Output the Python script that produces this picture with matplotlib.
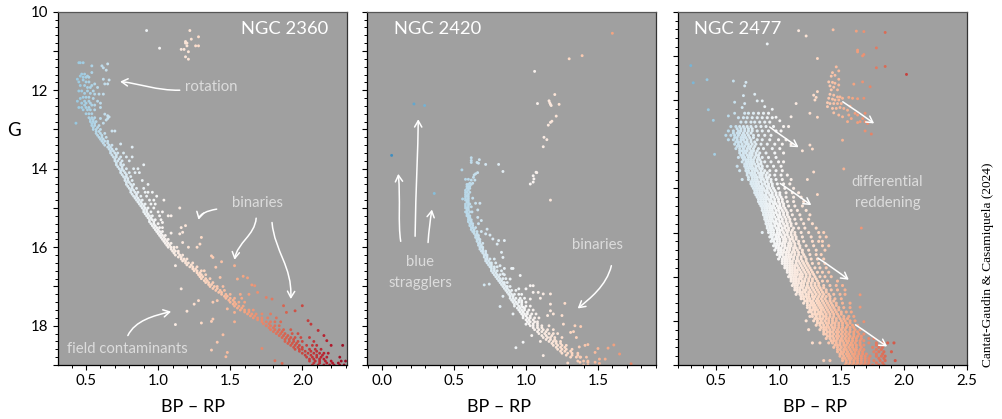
import matplotlib
matplotlib.use("Agg")
import matplotlib.pyplot as plt
from matplotlib.patches import FancyArrowPatch
from matplotlib.path import Path
from matplotlib.ticker import MultipleLocator
from matplotlib.colors import Normalize

plt.rcParams['font.family'] = ['Lato', 'DejaVu Sans']

# ---- NGC 2360: {G: [BP-RP, ...]}
n2360_dense = {
12.5:[.48,.51,.53,.56],12.6:[.50,.52,.54],12.7:[.52,.54,.56],12.8:[.53,.55,.57],12.9:[.54,.56,.59],13.0:[.55,.57,.60],
13.1:[.57,.60,.63],13.2:[.59,.61,.64],13.3:[.61,.63,.65],13.4:[.63,.66,.68],
13.5:[.66,.68,.71],13.6:[.67,.70,.72,.76],13.7:[.69,.71,.74,.78,.82],13.8:[.70,.72,.75,.80],13.9:[.71,.74,.76,.90],
14.0:[.73,.75,.78,.83,.86],14.1:[.74,.77,.80,.84,.87],14.2:[.76,.78,.81],14.3:[.77,.79,.82,.89],14.4:[.78,.81,.83,.93],
14.5:[.80,.82,.85,.90],14.6:[.81,.84,.86,.91,.93,.96],14.7:[.83,.85,.88,.92,.99],14.8:[.85,.87,.89,.94,1.04,.97],
14.9:[.87,.89,.91,.95,.98],15.0:[.89,.91,.93,.97],15.1:[.90,.92,.95,1.0,1.03],15.2:[.92,.94,.96,1.01],
15.3:[.94,.96,.98,1.02],15.4:[.95,.97,1.0],15.5:[.97,.99,1.01,1.03],15.6:[.99,1.01,1.03],15.7:[1.01,1.03,1.05],
15.8:[1.03,1.05,1.07],15.9:[1.05,1.07,1.09],16.0:[1.07,1.09,1.11,1.13],16.1:[1.10,1.12,1.14],16.2:[1.12,1.15,1.17],
16.3:[1.16,1.18,1.20],16.4:[1.19,1.21,1.24],16.5:[1.22,1.24,1.27],16.6:[1.25,1.27,1.30,1.32],16.7:[1.28,1.30,1.33],
16.8:[1.30,1.33,1.36],16.9:[1.33,1.35,1.38],17.0:[1.36,1.39,1.41,1.45],17.1:[1.40,1.43,1.46],17.2:[1.44,1.47,1.50],
17.3:[1.47,1.50,1.53,1.58],17.4:[1.50,1.53,1.56,1.60],17.5:[1.53,1.56,1.59],17.6:[1.57,1.60,1.63,1.66],
17.7:[1.62,1.65,1.68,1.72,1.78],17.8:[1.66,1.69,1.72,1.76,1.82],17.9:[1.72,1.75,1.78,1.81,1.85],18.0:[1.75,1.78,1.81,1.84],
18.1:[1.78,1.81,1.84,1.87,1.92],18.2:[1.82,1.85,1.88,1.93,1.97],18.3:[1.86,1.89,1.92,1.95,1.99,2.05],
18.4:[1.88,1.91,1.94,1.97,2.0,2.08],18.5:[1.92,1.95,1.98,2.03,2.07,2.1],18.6:[1.95,1.98,2.0,2.05,2.09,2.13],
18.7:[2.0,2.04,2.08,2.12,2.15,2.18],18.8:[2.03,2.07,2.1,2.13,2.17,2.26],18.9:[2.05,2.09,2.12,2.16,2.2,2.27,2.3],
19.0:[2.07,2.11,2.15,2.19,2.22,2.26,2.29]}
n2360_core = {
12.75:[.53,.55],12.85:[.54,.56],12.95:[.55,.58],13.05:[.57,.59],13.15:[.58,.61],13.25:[.60,.62],13.35:[.62,.65],13.45:[.65,.67],
13.55:[.67,.69],13.65:[.68,.71],13.75:[.70,.73],13.85:[.71,.74],13.95:[.72,.75],14.05:[.74,.76],14.15:[.75,.78],14.25:[.77,.79],
14.35:[.78,.80],14.45:[.79,.82],14.55:[.81,.83],14.65:[.82,.85],14.75:[.84,.86],14.85:[.86,.88],14.95:[.88,.90],15.05:[.90,.92],
15.15:[.91,.93],15.25:[.93,.95],15.35:[.94,.97],15.45:[.96,.98],15.55:[.98,1.0],15.65:[1.0,1.02],15.75:[1.02,1.04],15.85:[1.04,1.06],
15.95:[1.06,1.08],16.05:[1.09,1.11],16.15:[1.11,1.14],16.25:[1.14,1.16],16.35:[1.17,1.19],16.45:[1.2,1.23],16.55:[1.24,1.26],
16.65:[1.27,1.29],16.75:[1.29,1.31],16.85:[1.32,1.34],16.95:[1.35,1.37],17.05:[1.38,1.41],17.15:[1.42,1.44],17.25:[1.46,1.48],
17.35:[1.49,1.52],17.45:[1.52,1.54],17.55:[1.55,1.58],17.65:[1.6,1.63],17.75:[1.64,1.67],17.85:[1.69,1.72],17.95:[1.73,1.77],
18.05:[1.77,1.8],18.15:[1.8,1.83,1.86],18.25:[1.84,1.87,1.9],18.35:[1.88,1.91,1.94],18.45:[1.9,1.93,1.96],18.55:[1.94,1.97,2.0],
18.65:[1.98,2.02,2.06,2.1],18.75:[2.02,2.06,2.1,2.14],18.85:[2.05,2.08,2.12,2.15],18.95:[2.08,2.12,2.17,2.21,2.25]}
n2360_sparse = {
10.48:[.92,1.22],10.64:[1.28],10.70:[1.23],10.76:[1.19],10.80:[1.20,1.19],10.87:[1.26,1.28,1.20],10.93:[1.01],
10.96:[1.18,1.16],11.02:[1.21],11.15:[1.19],11.21:[1.21],11.30:[.45,.46,.48],11.33:[.65],11.38:[.54,.61],11.43:[.62],
11.49:[.64],11.55:[.54],11.59:[.47,.49],11.64:[.46,.51],11.67:[.48,.50,.52],11.72:[.44,.62],11.74:[.48,.66],
11.79:[.45,.52,.50],11.84:[.56,.63,.65],11.88:[.46,.49,.54],11.93:[.53,.58,.51],12.02:[.45,.47,.51,.55],12.08:[.49,.53],
12.10:[.56,.59,.62],12.18:[.48,.52,.50],12.21:[.46,.55],12.28:[.44,.49,.52,.58],12.33:[.47,.53,.60,.50],12.38:[.49,.56,.54],
12.44:[.45,.47,.52,.60,.50],12.61:[.63],12.65:[.65],12.68:[.66],12.72:[.60,.65],12.76:[.64],12.84:[.43,.62],
13.04:[.68,.70],13.37:[.74],13.45:[.82],15.0:[1.15],15.2:[1.07,1.09],15.37:[1.03],15.45:[1.19],15.5:[1.16],
15.62:[1.17],15.64:[1.09],15.66:[1.15],15.75:[1.3],15.88:[1.17],15.92:[1.29],16.0:[1.21,1.27],16.22:[1.37],16.26:[1.38],
16.37:[1.44],16.47:[1.53,1.12],16.51:[1.4],16.74:[1.59],16.77:[1.43],16.78:[1.62],16.81:[1.55],16.96:[1.65],16.98:[1.67],
17.06:[1.16],17.15:[1.69],17.2:[1.63,1.57],17.28:[1.75],17.32:[1.79],17.36:[1.28,1.41],17.4:[1.38],17.45:[1.25],
17.49:[1.87,2.0],17.57:[1.48],17.62:[1.95],17.63:[1.2],17.66:[1.89,1.53],17.83:[1.38],17.87:[2.04],17.89:[1.37],
17.9:[1.53],17.93:[1.3],17.96:[2.06],17.97:[1.12],18.12:[2.11],18.23:[1.45],18.25:[2.15],18.38:[2.17],18.42:[1.41],
18.5:[2.2,2.28],18.58:[1.72],18.62:[1.37],18.68:[1.48],18.79:[1.47],18.89:[1.81],18.96:[1.86]}

# ---- NGC 2420
n2420_dense = {
14.4:[.59,.60,.62],14.5:[.59,.60,.61],14.6:[.58,.59,.61],14.7:[.58,.59,.60],14.8:[.58,.59,.60],14.9:[.58,.60,.61],
15.0:[.58,.59,.60],15.1:[.58,.59,.61],15.2:[.59,.60,.61],15.3:[.60,.61,.62],15.4:[.61,.62,.63],15.5:[.62,.63,.65],
15.6:[.63,.64,.66],15.7:[.65,.66,.67],15.8:[.66,.67,.68],15.9:[.67,.68,.70],16.0:[.68,.69,.70],16.1:[.69,.70,.72],
16.2:[.71,.72,.73],16.3:[.72,.73,.75,.78],16.4:[.73,.75,.76,.79],16.5:[.75,.76,.78,.80],16.6:[.76,.78,.80,.83],
16.7:[.78,.80,.82,.85],16.8:[.80,.82,.84,.86],16.9:[.82,.84,.85,.87],17.0:[.84,.86,.87,.89],17.1:[.86,.88,.90,.93],
17.2:[.88,.90,.92,.95,.97],17.3:[.89,.91,.93,.96,.99],17.4:[.91,.93,.95,.97,1.0],17.5:[.92,.95,.97,1.0,1.03],
17.6:[.95,.97,.99,1.02,1.05],17.7:[.97,.99,1.01,1.04,1.07],17.8:[.98,1.01,1.03,1.06,1.09],17.9:[1.01,1.03,1.06,1.08],
18.0:[1.03,1.05,1.08,1.11,1.16],18.1:[1.06,1.09,1.12,1.15,1.19],18.2:[1.09,1.13,1.16,1.19,1.22],18.3:[1.12,1.15,1.17,1.20,1.25],
18.4:[1.16,1.19,1.21,1.24],18.5:[1.19,1.22,1.25,1.28],18.6:[1.22,1.25,1.28,1.32],18.7:[1.25,1.29,1.32,1.36],
18.8:[1.31,1.35,1.38,1.42],18.9:[1.36,1.40,1.43],19.0:[1.40,1.43]}
n2420_core = {
14.45:[.59,.61],14.55:[.58,.60],14.65:[.58,.60],14.75:[.58,.60],14.85:[.59,.60],14.95:[.58,.60],15.05:[.59,.60],15.15:[.59,.60],
15.25:[.60,.61],15.35:[.60,.62],15.45:[.61,.63],15.55:[.62,.64],15.65:[.64,.66],15.75:[.65,.67],15.85:[.66,.68],15.95:[.67,.69],
16.05:[.68,.70],16.15:[.70,.72],16.25:[.71,.73],16.35:[.72,.74],16.45:[.74,.76],16.55:[.76,.78],16.65:[.77,.79],16.75:[.79,.81],
16.85:[.81,.83],16.95:[.83,.85],17.05:[.85,.87],17.15:[.87,.89],17.25:[.89,.91],17.35:[.90,.92,.95],17.45:[.92,.94,.97],
17.55:[.94,.96,.99],17.65:[.96,.98,1.01],17.75:[.98,1.0,1.03],17.85:[1.0,1.02,1.05],17.95:[1.02,1.05,1.08],18.05:[1.05,1.08,1.11],
18.15:[1.08,1.11,1.14],18.25:[1.11,1.14,1.18],18.35:[1.14,1.17,1.2],18.45:[1.18,1.21,1.24],18.55:[1.21,1.24,1.27],
18.65:[1.24,1.27,1.31],18.75:[1.28,1.32,1.36]}
n2420_sparse = {
10.55:[1.60],11.12:[1.39],11.2:[1.30],11.52:[1.06],12.11:[1.2],12.27:[1.16],12.32:[1.165],12.34:[1.08],12.36:[1.23,1.17],
12.39:[1.175,.296],12.35:[.222],12.66:[1.21],12.79:[1.18],12.82:[1.17],12.89:[1.155],13.2:[1.125],13.26:[1.145],13.44:[1.12],
13.66:[.067],13.72:[.62],13.77:[.676],13.79:[.62],13.84:[.62,.66],13.86:[.67],13.89:[.72,.81],14.03:[.555],14.07:[.84],
14.09:[1.07],14.1:[.664,1.075],14.13:[.65],14.16:[.64],14.18:[1.05],14.22:[.635],14.26:[1.055],14.27:[.58,.6],14.29:[.62,.645],
14.34:[1.05],14.37:[.61,.63],14.39:[1.03],14.46:[.6],14.63:[.363],14.75:[.63],14.77:[.56],14.8:[1.17],14.88:[.65,.68],
14.97:[.62],15.05:[.665],15.1:[.625],15.24:[.665],15.32:[.69],15.4:[.67],15.54:[.73],15.6:[.69],15.66:[.72],15.69:[.75],
15.79:[.77],15.83:[.81,.85],15.92:[.8],16.13:[.83],16.26:[.84],16.47:[.82],16.54:[.9,.91,.85],16.68:[.84],16.72:[.96],
16.81:[.89],16.94:[.745],16.96:[.71],16.98:[1.03,1.05],17.06:[.95,1.0],17.15:[1.05,1.085],17.19:[1.12,1.17],17.25:[.84],
17.3:[1.1],17.32:[1.03],17.36:[.97],17.43:[1.27],17.45:[1.17],17.51:[.82],17.53:[.98],17.62:[1.17],17.7:[.91,1.19],
17.74:[1.15,1.25],17.96:[1.0,1.26],18.0:[1.34],18.02:[1.38],18.15:[1.33],18.17:[1.31],18.25:[1.04],18.3:[1.35],
18.4:[1.1],18.42:[.98],18.48:[1.43],18.5:[1.41],18.54:[1.37],18.56:[.93],18.57:[1.57],18.58:[1.5],18.49:[1.61],18.68:[1.48],
18.72:[1.65],18.76:[1.12],18.8:[1.375],18.85:[1.51,1.55],18.93:[1.48,1.375,1.43],18.95:[1.29],18.96:[1.51],18.97:[1.73]}

# ---- NGC 2477
n2477_dense = {
13.3:[.73,.76,.80,.84,.88,.92],13.4:[.68,.72,.75,.79,.83,.87,.91,.95],13.5:[.70,.74,.78,.81,.85,.89,.93],
13.6:[.62,.66,.69,.72,.75,.78,.82,.86,.90,.96,1.04,1.08],13.7:[.60,.64,.68,.70,.73,.76,.79,.83,.87,.92,.98,1.02],
13.8:[.58,.62,.65,.68,.71,.73,.76,.80,.84,.89,.94],13.9:[.60,.64,.67,.70,.72,.75,.78,.83,.87,.93,1.0,1.06],
14.0:[.65,.68,.71,.74,.76,.79,.82,.86,.91,.97,1.03,1.1],14.1:[.66,.69,.72,.75,.77,.80,.84,.88,.95,1.01],
14.2:[.69,.72,.74,.77,.79,.82,.85,.90,.97,1.04],14.3:[.68,.71,.73,.76,.78,.81,.84,.87,.92,.98],
14.4:[.71,.74,.76,.78,.80,.83,.86,.89,.94,1.0,1.04],14.5:[.67,.73,.75,.77,.79,.82,.84,.87,.91,.96,1.02],
14.6:[.69,.74,.76,.79,.81,.83,.86,.89,.93,.98,1.03],14.7:[.75,.78,.80,.82,.85,.87,.90,.93,.97,1.02,1.07],
14.8:[.71,.76,.79,.81,.83,.86,.88,.91,.94,.98,1.03,1.1],14.9:[.78,.80,.82,.84,.87,.89,.92,.95,.99,1.04,1.09],
15.0:[.80,.82,.84,.86,.88,.91,.93,.96,1.0,1.05,1.12],15.1:[.81,.83,.85,.87,.90,.92,.95,.98,1.01,1.06,1.11,1.16],
15.2:[.83,.85,.87,.89,.91,.94,.96,.99,1.02,1.06,1.12,1.18],15.3:[.84,.86,.88,.90,.93,.95,.97,1.0,1.03,1.07,1.12,1.2],
15.4:[.86,.88,.90,.92,.94,.96,.99,1.01,1.04,1.08,1.13,1.19],15.5:[.87,.89,.91,.93,.95,.98,1.0,1.03,1.06,1.1,1.15,1.22],
15.6:[.88,.90,.92,.94,.96,.99,1.01,1.04,1.07,1.11,1.17,1.25],15.7:[.89,.91,.93,.95,.98,1.0,1.03,1.06,1.09,1.13,1.18,1.24],
15.8:[.90,.92,.94,.97,.99,1.01,1.04,1.07,1.1,1.14,1.2,1.27],15.9:[.91,.93,.95,.98,1.0,1.03,1.05,1.08,1.12,1.16,1.21,1.3],
16.0:[.87,.92,.94,.96,.99,1.01,1.04,1.07,1.1,1.13,1.18,1.24,1.32,1.36],16.1:[.93,.95,.98,1.0,1.03,1.05,1.08,1.11,1.14,1.19,1.26,1.33,1.38],
16.2:[.94,.96,.99,1.01,1.04,1.06,1.09,1.12,1.16,1.2,1.27,1.32,1.35],16.3:[.96,.98,1.0,1.03,1.05,1.08,1.1,1.13,1.17,1.22,1.28,1.35,1.4],
16.4:[.97,1.0,1.02,1.04,1.07,1.09,1.12,1.15,1.19,1.24,1.3,1.37],16.5:[.99,1.01,1.03,1.06,1.08,1.1,1.13,1.16,1.2,1.25,1.3,1.34],
16.6:[1.0,1.03,1.05,1.07,1.09,1.12,1.15,1.18,1.22,1.26,1.31,1.36],16.7:[1.03,1.05,1.07,1.09,1.11,1.14,1.17,1.2,1.23,1.27,1.32,1.37],
16.8:[1.05,1.07,1.09,1.11,1.13,1.16,1.19,1.22,1.25,1.29,1.33,1.38],16.9:[1.07,1.09,1.11,1.13,1.15,1.18,1.21,1.24,1.27,1.31,1.35,1.4],
17.0:[1.08,1.1,1.12,1.14,1.17,1.19,1.22,1.25,1.29,1.33,1.37,1.42],17.1:[1.1,1.12,1.14,1.16,1.19,1.21,1.24,1.27,1.31,1.35,1.39,1.47],
17.2:[1.11,1.13,1.15,1.18,1.2,1.23,1.26,1.29,1.32,1.36,1.41,1.46,1.51],17.3:[1.13,1.15,1.17,1.2,1.22,1.25,1.28,1.31,1.34,1.38,1.42,1.47,1.53],
17.4:[1.14,1.17,1.19,1.22,1.24,1.27,1.3,1.33,1.36,1.4,1.44,1.49,1.53],17.5:[1.18,1.2,1.23,1.25,1.28,1.31,1.34,1.37,1.41,1.45,1.5],
17.6:[1.2,1.23,1.26,1.28,1.31,1.33,1.36,1.39,1.42,1.46,1.51,1.57],17.7:[1.23,1.25,1.28,1.3,1.33,1.35,1.38,1.41,1.44,1.48,1.52,1.57],
17.8:[1.24,1.26,1.29,1.32,1.34,1.37,1.4,1.43,1.46,1.5,1.54,1.58],17.9:[1.25,1.27,1.3,1.33,1.36,1.38,1.41,1.44,1.48,1.52,1.56,1.6],
18.0:[1.22,1.28,1.31,1.34,1.37,1.4,1.43,1.46,1.5,1.53,1.57,1.61],18.1:[1.3,1.33,1.36,1.39,1.42,1.45,1.48,1.51,1.55,1.59,1.63],
18.2:[1.24,1.33,1.36,1.38,1.41,1.44,1.47,1.5,1.53,1.57,1.61,1.65],18.3:[1.36,1.38,1.41,1.44,1.47,1.5,1.53,1.56,1.6,1.64,1.68],
18.4:[1.38,1.41,1.44,1.47,1.5,1.53,1.56,1.59,1.62,1.66,1.72,1.76],18.5:[1.27,1.33,1.4,1.43,1.46,1.49,1.52,1.55,1.58,1.61,1.65,1.72,1.78,1.83,1.87,1.92],
18.6:[1.44,1.47,1.5,1.53,1.56,1.59,1.62,1.66,1.75,1.8,1.83],18.7:[1.47,1.5,1.52,1.55,1.58,1.61,1.64,1.67,1.76,1.8,1.84,1.9],
18.8:[1.49,1.52,1.55,1.57,1.6,1.63,1.66,1.69,1.73,1.78,1.82,1.85],18.9:[1.36,1.41,1.51,1.54,1.57,1.6,1.63,1.66,1.69,1.72,1.76,1.81,1.85,1.93],
19.0:[1.53,1.56,1.59,1.62,1.65,1.68,1.71,1.75,1.8,1.84]}
n2477_core = {
13.65:[.67,.70,.73,.76,.79],13.75:[.64,.67,.69,.72,.75,.78],13.85:[.65,.67,.70,.72,.74,.77,.80],13.95:[.66,.68,.70,.73,.75,.78,.81],
14.05:[.67,.69,.71,.73,.76,.78,.81],14.15:[.69,.71,.73,.75,.78,.80,.83],14.25:[.70,.72,.75,.77,.79,.82,.84],14.35:[.72,.74,.76,.78,.80,.83,.85],
14.45:[.73,.75,.77,.79,.81,.84,.86],14.55:[.74,.76,.78,.80,.82,.85,.87],14.65:[.75,.77,.79,.81,.84,.86,.88,.91],
14.75:[.76,.79,.81,.83,.85,.87,.90,.92],14.85:[.78,.80,.82,.84,.86,.89,.91,.94],14.95:[.79,.81,.83,.85,.87,.90,.92,.95],
15.05:[.81,.83,.85,.87,.89,.91,.94,.97],15.15:[.82,.84,.86,.88,.90,.93,.95,.98,1.01],15.25:[.84,.86,.88,.90,.92,.94,.97,1.0,1.03],
15.35:[.85,.87,.89,.91,.93,.96,.98,1.01,1.04],15.45:[.87,.89,.91,.93,.95,.97,1.0,1.02,1.05],15.55:[.88,.90,.92,.94,.96,.98,1.01,1.04,1.07],
15.65:[.89,.91,.93,.95,.97,1.0,1.02,1.05,1.08],15.75:[.90,.92,.94,.96,.98,1.01,1.03,1.06,1.09],15.85:[.91,.93,.95,.97,1.0,1.02,1.05,1.07,1.1],
15.95:[.92,.94,.96,.99,1.01,1.03,1.06,1.08,1.11],16.05:[.94,.96,.98,1.0,1.02,1.05,1.07,1.1,1.13],16.15:[.95,.97,.99,1.01,1.04,1.06,1.09,1.11,1.14],
16.25:[.97,.99,1.01,1.03,1.05,1.08,1.1,1.13,1.16],16.35:[.98,1.0,1.02,1.05,1.07,1.09,1.12,1.14,1.17],16.45:[1.0,1.02,1.04,1.06,1.08,1.11,1.13,1.16,1.19],
16.55:[1.01,1.04,1.06,1.08,1.1,1.12,1.15,1.18,1.21],16.65:[1.03,1.05,1.07,1.09,1.11,1.14,1.16,1.19,1.22],16.75:[1.05,1.07,1.09,1.11,1.13,1.15,1.18,1.21,1.24],
16.85:[1.07,1.09,1.11,1.13,1.15,1.17,1.2,1.23,1.26],16.95:[1.09,1.11,1.13,1.15,1.17,1.19,1.22,1.25,1.28],17.05:[1.1,1.12,1.14,1.16,1.18,1.21,1.24,1.27,1.3],
17.15:[1.12,1.14,1.16,1.18,1.2,1.23,1.26,1.29,1.32],17.25:[1.13,1.15,1.17,1.19,1.22,1.24,1.27,1.3,1.33,1.36],17.35:[1.15,1.17,1.19,1.21,1.24,1.26,1.29,1.32,1.35,1.38],
17.45:[1.18,1.2,1.22,1.24,1.27,1.29,1.32,1.35,1.38,1.41],17.55:[1.21,1.23,1.25,1.27,1.3,1.32,1.35,1.38,1.41,1.44],17.65:[1.23,1.25,1.27,1.29,1.32,1.34,1.37,1.4,1.43,1.46],
17.75:[1.25,1.27,1.29,1.31,1.34,1.36,1.39,1.42,1.45,1.48],17.85:[1.27,1.29,1.31,1.33,1.35,1.38,1.41,1.44,1.47,1.5],17.95:[1.29,1.31,1.33,1.35,1.38,1.4,1.43,1.46,1.49,1.52,1.55],
18.05:[1.31,1.33,1.35,1.38,1.4,1.43,1.45,1.48,1.51,1.54,1.57],18.15:[1.34,1.36,1.38,1.4,1.43,1.45,1.48,1.51,1.54,1.57,1.6],18.25:[1.36,1.39,1.41,1.43,1.46,1.48,1.51,1.54,1.57,1.6,1.63],
18.35:[1.39,1.41,1.43,1.46,1.48,1.51,1.54,1.57,1.6,1.63,1.66],18.45:[1.42,1.44,1.46,1.49,1.51,1.54,1.56,1.59,1.62,1.65,1.68],18.55:[1.45,1.47,1.49,1.52,1.54,1.57,1.59,1.62,1.65,1.68,1.78],
18.65:[1.47,1.49,1.52,1.54,1.57,1.6,1.62,1.65,1.68,1.78,1.82],18.75:[1.49,1.51,1.54,1.56,1.59,1.61,1.64,1.67,1.7,1.78,1.83],18.85:[1.51,1.53,1.56,1.58,1.61,1.63,1.66,1.69,1.72,1.8,1.84],
18.95:[1.54,1.57,1.6,1.63,1.66,1.69,1.72,1.78,1.83]}
n2477_sparse = {
11.41:[1.435],11.43:[1.16],11.44:[1.62],11.45:[1.68],11.47:[1.85],11.55:[1.22],11.73:[.91],11.82:[1.78],11.87:[1.63],11.91:[1.63],
11.97:[1.68],12.0:[1.67],12.06:[1.31],12.22:[.30],12.24:[1.85],12.25:[1.46],12.27:[1.78],12.34:[1.48],12.38:[1.43],12.42:[2.02],
12.44:[1.45],12.46:[1.42],12.53:[1.48],12.54:[.43],12.57:[.64],12.59:[1.40,1.67],12.6:[.74,1.43],12.61:[.32],12.62:[1.45],
12.64:[1.6],12.66:[1.48],12.68:[.73,1.41],12.7:[1.73],12.71:[1.44],12.77:[1.42,1.47],12.81:[1.31],12.87:[.81,1.41],12.89:[1.28,1.44],
12.9:[.72],12.93:[1.47,1.49],12.94:[1.3,1.56],12.96:[1.40,1.51,1.59,1.68],12.97:[1.63],12.98:[1.43],13.0:[1.29,1.45,1.48],
13.02:[.83,.87],13.05:[.65],13.06:[1.39],13.08:[.73,1.14,1.41,1.44,1.47,1.5],13.14:[1.57],13.15:[.89,1.39],13.17:[.71,1.49],
13.19:[1.43,1.46,1.52],13.21:[.95],13.22:[.44],13.23:[1.55],13.29:[1.44],13.3:[.65,1.25,1.61,1.69],13.34:[1.48,1.56,1.63],
13.36:[.6],13.38:[1.1,1.51],13.39:[.98,1.31],13.42:[1.58,1.67],13.46:[.48],13.47:[1.01],13.49:[1.55,1.65,1.69],13.51:[1.63],
13.53:[1.71],13.7:[1.69],13.77:[1.74],13.91:[1.51],14.02:[1.25],14.11:[1.27],14.15:[1.19],14.23:[.49],14.56:[1.52],
14.63:[1.28],14.8:[1.23],15.14:[1.31],15.9:[1.66],17.41:[1.65],17.69:[1.65],18.02:[1.68]}

# ---- annotation curves (BP-RP, G control points)
n2360_arrows = [[(1.15,12.0),(.99,12.01),(.87,11.83),(.736,11.78)],
                [(1.406,15.03),(1.34,15.07),(1.29,15.15),(1.28,15.3)],
                [(1.68,15.26),(1.67,15.7),(1.55,15.88),(1.53,16.32)],
                [(1.79,15.37),(1.81,16.13),(1.93,16.47),(1.92,17.32)],
                [(.79,18.25),(.84,17.87),(.97,17.74),(1.09,17.64)]]
n2420_arrows = [[(.13,15.85),(.11,15.37),(.13,14.8),(.113,14.13)],
                [(.23,15.72),(.235,14.5),(.25,13.5),(.252,12.74)],
                [(.32,15.88),(.325,15.6),(.335,15.3),(.347,15.04)],
                [(1.593,16.47),(1.56,16.98),(1.44,17.32),(1.359,17.56)]]
n2477_arrows = [[(.929,13.61),(1.0,13.76),(1.08,13.92),(1.16,14.07)],
                [(1.014,14.89),(1.1,15.05),(1.18,15.22),(1.261,15.38)],
                [(1.315,16.58),(1.4,16.74),(1.48,16.9),(1.56,17.07)],
                [(1.613,18.09),(1.7,18.25),(1.78,18.42),(1.866,18.58)],
                [(1.512,13.04),(1.6,13.2),(1.68,13.37),(1.762,13.53)]]

W, H = 1002, 419
AX_TOP, AX_BOTTOM = 11.7, 365.0
TEXT = '#dcdcdc'
BG = '#a0a0a0'
norm = Normalize(-0.5, 2.5)

def flat(*groups):
    xs, gs = [], []
    for rows in groups:
        for g, vals in rows.items():
            for v in vals:
                xs.append(v); gs.append(g)
    return xs, gs

fig = plt.figure(figsize=(W/100, H/100), dpi=100)

def panel(left, right, xlim, ylim, dense, core, sparse, s_dense, s_sparse, curves, ylabels):
    ax = fig.add_axes([left/W, 1-AX_BOTTOM/H, (right-left)/W, (AX_BOTTOM-AX_TOP)/H])
    ax.set_facecolor(BG)
    ax.set_xlim(*xlim); ax.set_ylim(*ylim)
    xs, gs = flat(dense, core)
    ax.scatter(xs, gs, c=xs, cmap='RdBu_r', norm=norm, s=s_dense, linewidths=0, zorder=2)
    xs, gs = flat(sparse)
    ax.scatter(xs, gs, c=xs, cmap='RdBu_r', norm=norm, s=s_sparse, linewidths=0, zorder=2)
    for c in curves:
        p = Path(c, [Path.MOVETO, Path.CURVE4, Path.CURVE4, Path.CURVE4])
        a = FancyArrowPatch(path=p, arrowstyle='->,head_length=4.5,head_width=2.6', color='white',
                            lw=1.1, transform=ax.transData, zorder=5, clip_on=False, mutation_scale=1)
        ax.add_patch(a)
    ax.xaxis.set_major_locator(MultipleLocator(0.5))
    ax.xaxis.set_minor_locator(MultipleLocator(0.1))
    ax.yaxis.set_major_locator(MultipleLocator(1))
    ax.yaxis.set_minor_locator(MultipleLocator(0.2))
    ax.tick_params(which='major', length=3.6, width=0.8, labelsize=10.8, pad=3, color='black')
    ax.tick_params(which='minor', length=2.0, width=0.7, color='black')
    if ylabels:
        ax.set_yticks(range(10, 20))
        ax.set_yticklabels([str(v) if v % 2 == 0 else '' for v in range(10, 20)])
    else:
        ax.tick_params(axis='y', which='both', labelleft=False)
    ax.spines['left'].set_color('black'); ax.spines['bottom'].set_color('black')
    ax.spines['top'].set_color('#555555'); ax.spines['right'].set_color('#333333')
    for sp in ax.spines.values():
        sp.set_linewidth(0.9)
    return ax

ax1 = panel(57.5, 346.7, (0.302, 2.308), (19, 10), n2360_dense, n2360_core, n2360_sparse, 4.2, 4.4, n2360_arrows, True)
ax2 = panel(367.3, 656.0, (-0.102, 1.903), (19, 10), n2420_dense, n2420_core, n2420_sparse, 4.2, 4.4, n2420_arrows, False)
ax3 = panel(677.7, 966.7, (0.196, 2.5), (19, 11), n2477_dense, n2477_core, n2477_sparse, 5.0, 4.4, n2477_arrows, False)

def name(ax, fx, label):
    ax.text(fx, 0.951, label, transform=ax.transAxes, color='white', fontsize=13.2, va='center', ha='left')
name(ax1, 0.634, 'NGC 2360'); name(ax2, 0.092, 'NGC 2420'); name(ax3, 0.056, 'NGC 2477')

def note(ax, x, g, label):
    ax.text(x, g, label, color=TEXT, fontsize=10.7, ha='center', va='center', zorder=6)
note(ax1, 1.37, 11.93, 'rotation')
note(ax1, 1.688, 14.87, 'binaries')
note(ax1, .79, 18.59, 'field contaminants')
note(ax2, .264, 16.37, 'blue')
note(ax2, .264, 16.91, 'stragglers')
note(ax2, 1.495, 15.94, 'binaries')
note(ax3, 1.868, 14.86, 'differential')
note(ax3, 1.868, 15.33, 'reddening')

fig.text(14/W, 1-130/H, 'G', fontsize=13.5, ha='center', va='center')
for cx in (192.7, 499, 815):
    fig.text(cx/W, 1-407/H, 'BP \u2013 RP', fontsize=13, ha='center', va='center')
fig.text(988/W, 1-367/H, 'Cantat-Gaudin & Casamiquela (2024)', family='Liberation Serif', fontsize=9.6,
         rotation=90, ha='center', va='bottom')

fig.savefig('out.png', dpi=100, facecolor='white')
